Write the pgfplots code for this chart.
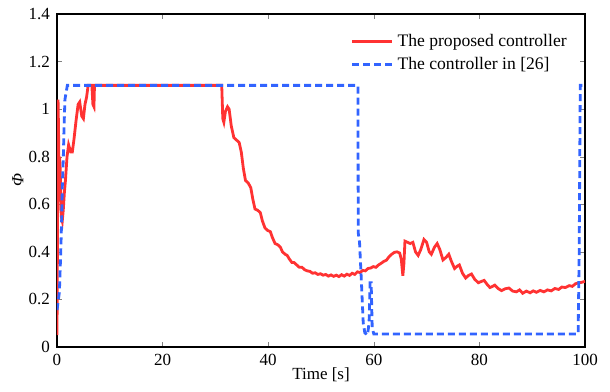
\documentclass[border=0pt]{standalone}
\usepackage[no-math]{fontspec}
\setmainfont{Liberation Serif}
\newfontfamily\tickfont{Liberation Serif}
\usepackage{pgfplots}
\pgfplotsset{compat=1.18}
\definecolor{myred}{RGB}{255,50,50}
\definecolor{myblue}{RGB}{50,100,255}
\begin{document}
\begin{tikzpicture}
\begin{axis}[name=ax, scale only axis, width=264pt, height=166.5pt,
  xmin=0, xmax=100, ymin=0, ymax=1.4,
  xtick={0,20,40,60,80,100},
  ytick={0,0.2,0.4,0.6,0.8,1,1.2,1.4},
  xticklabels={{\tickfont 0},{\tickfont 20},{\tickfont 40},{\tickfont 60},{\tickfont 80},{\tickfont 100}},
  yticklabels={{\tickfont 0},{\tickfont 0.2},{\tickfont 0.4},{\tickfont 0.6},{\tickfont 0.8},{\tickfont 1},{\tickfont 1.2},{\tickfont 1.4}},
  tick align=inside, tick pos=both, major tick length=2.5pt,
  tick label style={font=\tickfont\fontsize{8.5}{10}\selectfont},
  xlabel={Time [s]}, ylabel={\textit{Φ}},
  every axis x label/.style={at={(rel axis cs:0.5,-0.084)}, anchor=center, font=\fontsize{8.5}{10}\selectfont},
  every axis y label/.style={at={(rel axis cs:-0.074,0.5)}, anchor=center, rotate=90, font=\fontsize{8.5}{10}\selectfont},
  axis line style={line width=0.6pt},
  legend style={draw=none, fill=none, at={(0.985,0.965)}, anchor=north east, font=\fontsize{8.8}{10.5}\selectfont, row sep=0pt},
  legend cell align=left,
  legend image code/.code={\draw[#1] (0pt,0pt) -- (20pt,0pt);},
  every axis plot/.append style={line width=1.4pt},
]
\addplot[myred, solid] coordinates {
(0,0.05)(0.1,0.5)(0.2,1.04)(0.3,0.9)(0.4,0.65)(0.5,0.8)(0.6,0.75)(0.8,0.55)(1.0,0.53)(1.2,0.58)(1.4,0.65)(1.6,0.7)(1.9,0.8)(2.2,0.85)(2.6,0.82)(2.9,0.82)(3.2,0.87)(3.6,0.95)(4.0,1.02)(4.3,1.03)(4.7,0.97)(5.0,0.96)(5.3,1.02)(5.6,1.05)(5.9,1.1)(6.6,1.1)(6.8,1.02)(7.0,1.01)(7.1,1.1)
(31.2,1.1)(31.4,0.96)(31.6,0.945)(31.9,0.99)(32.3,1.01)(32.6,1.0)(33.0,0.93)(33.5,0.88)(34.0,0.87)(34.5,0.86)(34.9,0.82)(35.3,0.75)(35.7,0.70)(36.2,0.69)(36.7,0.67)(37.1,0.62)(37.5,0.58)(38.0,0.575)(38.5,0.565)(38.9,0.53)(39.4,0.50)(39.9,0.49)(40.4,0.485)(40.8,0.46)(41.3,0.435)(41.8,0.43)(42.3,0.42)(42.7,0.40)(43.2,0.39)(43.6,0.385)(44.0,0.37)(44.5,0.355)(44.9,0.355)(45.4,0.345)(45.9,0.335)(46.4,0.335)(46.9,0.325)(47.4,0.32)(47.9,0.318)(48.4,0.31)(48.9,0.312)(49.4,0.305)(49.9,0.308)(50.4,0.302)(50.9,0.305)(51.4,0.298)(51.9,0.303)(52.4,0.297)(52.9,0.302)(53.4,0.296)(53.9,0.304)(54.4,0.298)(54.9,0.306)(55.4,0.301)(55.9,0.31)(56.4,0.305)(56.9,0.316)(57.4,0.313)(57.9,0.322)(58.4,0.32)(58.9,0.33)(59.4,0.332)(59.9,0.338)(60.4,0.335)(60.9,0.345)(61.4,0.352)(61.9,0.36)(62.4,0.365)(62.9,0.38)(63.4,0.39)(63.9,0.398)(64.4,0.40)(64.9,0.395)(65.2,0.37)(65.5,0.30)(65.7,0.35)(65.9,0.445)(66.4,0.44)(66.9,0.435)(67.4,0.44)(67.9,0.40)(68.4,0.385)(68.9,0.41)(69.5,0.452)(70.0,0.44)(70.5,0.40)(70.9,0.39)(71.5,0.42)(72.0,0.435)(72.5,0.41)(73.1,0.366)(73.6,0.375)(74.2,0.39)(74.7,0.36)(75.3,0.33)(75.8,0.34)(76.2,0.345)(76.8,0.31)(77.4,0.29)(77.9,0.30)(78.5,0.307)(79.1,0.285)(79.8,0.27)(80.3,0.275)(80.9,0.28)(81.5,0.262)(82.0,0.25)(82.5,0.255)(82.9,0.26)(83.6,0.245)(84.2,0.237)(84.9,0.245)(85.6,0.248)(86.3,0.235)(87.0,0.232)(87.6,0.24)(88.2,0.226)(88.9,0.235)(89.6,0.228)(90.2,0.236)(90.8,0.23)(91.5,0.238)(92.2,0.232)(92.9,0.24)(93.6,0.236)(94.3,0.246)(95.0,0.242)(95.6,0.252)(96.3,0.25)(97.0,0.258)(97.6,0.255)(98.2,0.266)(98.8,0.27)(99.4,0.272)(100,0.276)
};
\addlegendentry{The proposed controller}
\addplot[myblue, dash pattern=on 3.5pt off 2pt] coordinates {
(0,0.155)(0.45,0.23)(0.7,0.39)(0.9,0.55)(1.0,0.67)(1.2,0.80)(1.33,0.92)(1.5,1.04)(1.96,1.1)
(57.0,1.1)(57.05,0.48)(57.3,0.44)(57.6,0.30)(58.0,0.10)(58.3,0.06)(58.8,0.05)(59.1,0.10)(59.3,0.27)(59.5,0.27)(59.7,0.08)(60,0.055)(98.7,0.055)(98.9,0.4)(99.1,1.1)(100,1.1)
};
\addlegendentry{The controller in [26]}
\end{axis}
\pgfresetboundingbox
\path ([shift={(-28.5pt,-22pt)}]ax.south west) rectangle ([shift={(12.5pt,7pt)}]ax.north east);
\end{tikzpicture}
\end{document}
